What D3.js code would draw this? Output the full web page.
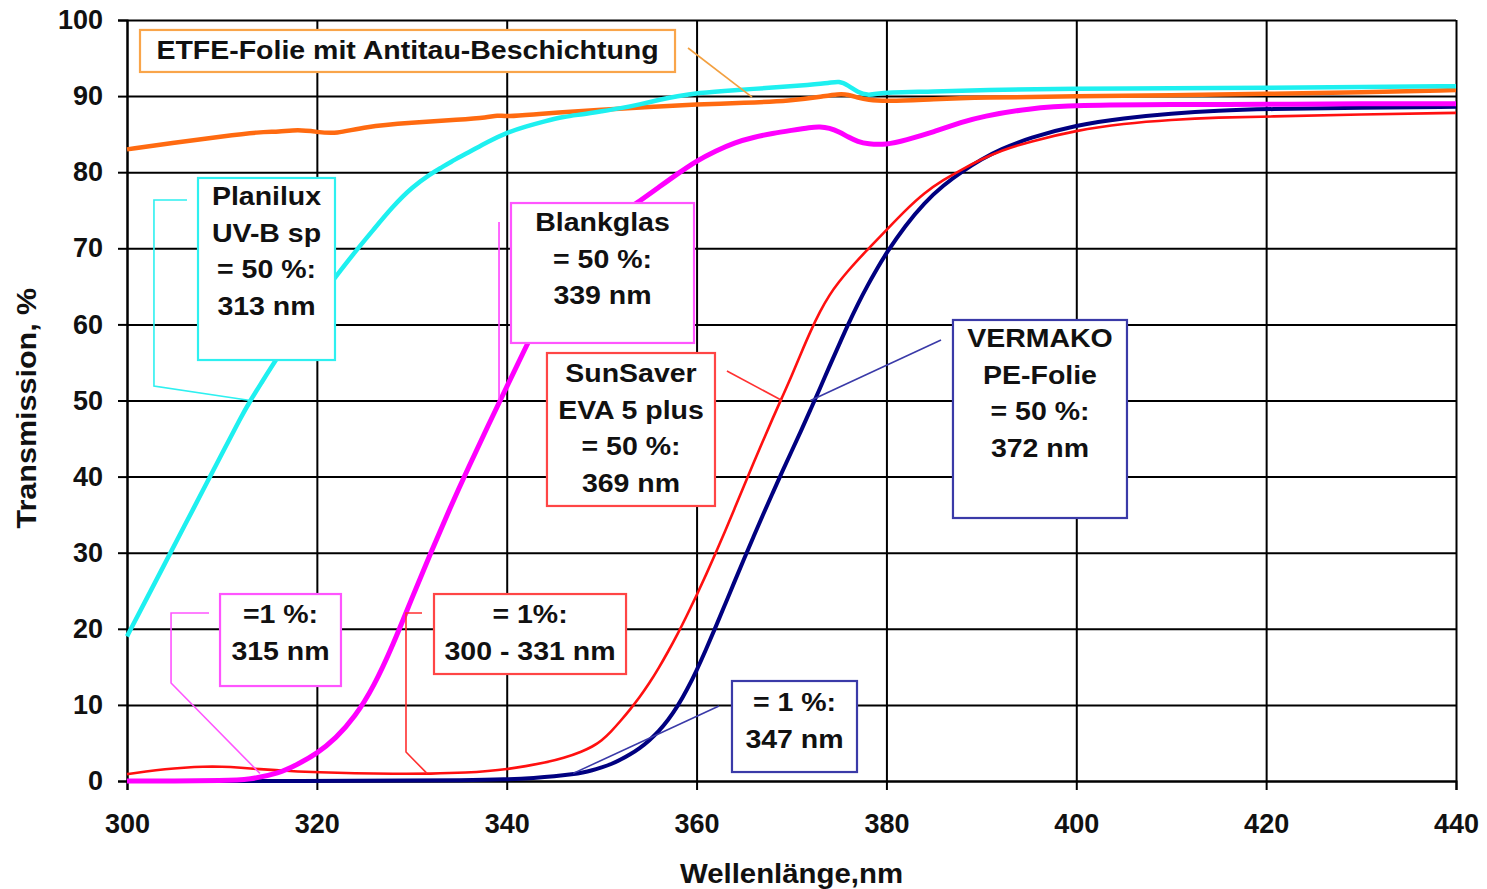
<!DOCTYPE html>
<html>
<head>
<meta charset="utf-8">
<script src="https://cdn.jsdelivr.net/npm/d3@7"></script>
<style>
  html, body { margin: 0; padding: 0; background: #fff; }
  svg { display: block; font-family: "Liberation Sans", Arial, sans-serif; }
</style>
</head>
<body>
<svg id="chart" width="1487" height="889"></svg>
<script>
// ---------------- DATA ----------------
const xTicks = [300, 320, 340, 360, 380, 400, 420, 440];
const yTicks = [0, 10, 20, 30, 40, 50, 60, 70, 80, 90, 100];

// ETFE-Folie mit Antitau-Beschichtung (orange)
const etfeWl = [300,305,310,314,316,318,320,322,325,330,335,338,339,340,343,345,350,355,360,365,370,373,375,376,377,378,380,385,390,400,410,420,430,440];
const etfeT  = [83.0,83.9,84.7,85.3,85.3,85.6,85.3,85.0,86.0,86.5,86.9,87.2,87.5,87.3,87.6,87.8,88.2,88.6,88.9,89.1,89.4,89.9,90.3,90.2,89.8,89.5,89.3,89.6,89.8,90.0,90.1,90.3,90.5,90.8];

// Planilux UV-B sp (cyan)
const planWl = [300,302,304,306,308,310,312,313,314,316,318,320,322,324,326,328,330,332,333,334,336,338,340,342,344,346,348,350,352,354,356,358,360,364,368,372,374,375,376,377,378,379,380,385,390,400,410,420,430,440];
const planT  = [19.0,23.8,28.6,33.4,38.2,43.0,47.8,50.0,52.0,56.0,59.5,63.0,66.3,69.5,72.5,75.5,78.0,79.8,80.5,81.3,82.6,84.0,85.2,86.0,86.7,87.3,87.6,88.0,88.4,88.9,89.5,90.0,90.4,90.8,91.1,91.5,91.7,92.0,91.4,90.5,90.1,90.3,90.5,90.6,90.8,91.0,91.0,91.1,91.2,91.3];

// Blankglas (magenta)
const blankWl = [300,305,310,313,316,318,320,322,324,326,328,330,332,334,336,338,340,342,344,346,348,350,352,354,356,358,360,362,364,366,368,370,372,373,374,375,376,377,378,380,382,385,388,390,395,400,410,420,430,440];
const blankT  = [0,0,0.05,0.2,1.0,2.2,3.6,5.6,8.4,12.4,17.8,24.0,30.0,35.8,41.3,46.6,51.8,57.0,62.0,66.3,69.8,72.4,74.5,76.2,78.0,79.8,81.5,82.8,83.9,84.6,85.1,85.5,85.9,86.0,85.8,85.3,84.6,84.0,83.7,83.6,84.2,85.3,86.6,87.3,88.4,88.8,88.9,88.9,89.0,89.0];

// SunSaver EVA 5 plus (red)
const sunWl = [300,302,304,306,308,310,312,314,316,318,320,324,328,332,336,338,340,342,344,346,348,349,350,351,352,353,354,355,356,357,358,359,360,361,362,363,364,365,366,367,368,369,370,371,372,373,374,375,376,377,378,379,380,382,384,386,388,390,392,395,400,405,410,415,420,430,440];
const sunT  = [0.9,1.25,1.55,1.75,1.9,1.9,1.75,1.55,1.4,1.25,1.15,1.0,0.95,0.95,1.1,1.3,1.55,1.95,2.4,3.0,3.9,4.5,5.3,6.5,7.9,9.4,11.0,12.8,14.8,17.0,19.3,21.8,24.4,27.1,29.9,32.8,35.8,38.8,41.8,44.7,47.6,50.4,53.2,56.2,59.1,61.7,63.9,65.6,67.1,68.5,69.8,71.1,72.4,75.0,77.3,79.0,80.4,81.7,82.8,84.0,85.5,86.4,86.9,87.2,87.3,87.6,87.8];

// VERMAKO PE-Folie (navy)
const verWl = [300,320,330,335,340,343,345,347,348,349,350,351,352,353,354,355,356,357,358,359,360,361,362,363,364,365,366,367,368,369,370,371,372,373,374,375,376,377,378,379,380,382,384,386,388,390,392,395,400,405,410,415,420,430,440];
const verT  = [0,0,0.05,0.1,0.2,0.4,0.6,0.9,1.1,1.4,1.8,2.2,2.8,3.5,4.3,5.3,6.5,8.0,9.8,12.0,14.5,17.3,20.2,23.2,26.2,29.2,32.1,35.0,37.8,40.6,43.3,46.0,48.8,51.6,54.5,57.3,60.1,62.7,65.1,67.3,69.4,73.0,76.0,78.3,80.1,81.7,83.0,84.5,86.2,87.1,87.7,88.1,88.3,88.5,88.6];

const seriesNames = ["ETFE", "Planilux", "Blankglas", "SunSaver", "VERMAKO"];

// Annotation texts
const etfeLabel   = ["ETFE-Folie mit Antitau-Beschichtung"];
const planLabel   = ["Planilux", "UV-B sp", "= 50 %:", "313 nm"];
const blankLabel  = ["Blankglas", "= 50 %:", "339 nm"];
const sunLabel    = ["SunSaver", "EVA 5 plus", "= 50 %:", "369 nm"];
const verLabel    = ["VERMAKO", "PE-Folie", "= 50 %:", "372 nm"];
const ver1Label   = ["= 1 %:", "347 nm"];
const blank1Label = ["=1 %:", "315 nm"];
const sun1Label   = ["= 1%:", "300 - 331 nm"];

// ---------------- LAYOUT ----------------
const W = 1487, H = 889;
const margin = { top: 20, right: 31, bottom: 108, left: 127 };
const iw = W - margin.left - margin.right;
const ih = H - margin.top - margin.bottom;

const svg = d3.select("#chart");
const g = svg.append("g").attr("transform", `translate(${margin.left},${margin.top})`);

const x = d3.scaleLinear().domain([300, 440]).range([0, iw]);
const y = d3.scaleLinear().domain([0, 100]).range([ih, 0]);

// grid
g.append("g").attr("class", "grid")
  .call(d3.axisLeft(y).tickValues(yTicks).tickSize(-iw).tickFormat(""))
  .call(s => s.select(".domain").remove())
  .call(s => s.selectAll("line").attr("stroke", "#000").attr("stroke-width", 2));
g.append("g").attr("class", "grid")
  .attr("transform", `translate(0,${ih})`)
  .call(d3.axisBottom(x).tickValues(xTicks).tickSize(-ih).tickFormat(""))
  .call(s => s.select(".domain").remove())
  .call(s => s.selectAll("line").attr("stroke", "#000").attr("stroke-width", 2));

// axes with labels
const yAxis = g.append("g")
  .call(d3.axisLeft(y).tickValues(yTicks).tickSize(9).tickPadding(15).tickFormat(d3.format("d")));
const xAxis = g.append("g").attr("transform", `translate(0,${ih})`)
  .call(d3.axisBottom(x).tickValues(xTicks).tickSize(9).tickPadding(24).tickFormat(d3.format("d")));
[yAxis, xAxis].forEach(a => {
  a.select(".domain").attr("stroke", "#000").attr("stroke-width", 2);
  a.selectAll(".tick line").attr("stroke", "#000").attr("stroke-width", 2);
  a.selectAll(".tick text")
    .attr("fill", "#111")
    .style("font-family", "'Liberation Sans', Arial, sans-serif")
    .style("font-weight", "bold")
    .style("font-size", "27px");
});

// helper for stretched bold text
function stretchedText(parent, px, py, str, size, sx, anchor, rot) {
  const t = parent.append("g")
    .attr("transform", `translate(${px},${py}) rotate(${rot || 0}) scale(${sx},1)`)
    .append("text")
    .attr("text-anchor", anchor || "middle")
    .attr("fill", "#111")
    .style("font-weight", "bold")
    .style("font-size", size + "px")
    .text(str);
  return t;
}

// axis titles
stretchedText(svg, margin.left + x(370), 883, "Wellenlänge,nm", 28, 1.05, "middle");
stretchedText(svg, 36, margin.top + y(49), "Transmission, %", 27, 1.13, "middle", -90);

// curves
const line = d3.line()
  .x(d => x(d[0]))
  .y(d => y(d[1]))
  .curve(d3.curveBasis);

const curves = [
  { wl: etfeWl,  t: etfeT,  color: "#ff6a10", w: 4.5 },
  { wl: planWl,  t: planT,  color: "#1ef0f0", w: 4.5 },
  { wl: verWl,   t: verT,   color: "#000080", w: 4 },
  { wl: sunWl,   t: sunT,   color: "#ff1010", w: 2.6 },
  { wl: blankWl, t: blankT, color: "#ff00ff", w: 5 }
];
curves.forEach(c => {
  g.append("path")
    .datum(c.wl.map((w, i) => [w, c.t[i]]))
    .attr("fill", "none")
    .attr("stroke", c.color)
    .attr("stroke-width", c.w)
    .attr("stroke-linejoin", "round")
    .attr("d", line);
});

// annotations (positions in data units: nm / %)
const ann = [
  { box: [301.37, 98.69, 357.73, 93.17], color: "#f9a54a", lines: etfeLabel,
    leader: [[359.1, 96.32], [365.84, 89.88]], lc: "#f3a040", first: 20 },
  { box: [307.48, 79.24, 321.91, 55.32], color: "#2ef0f0", lines: planLabel,
    leader: [[306.32, 76.35], [302.84, 76.35], [302.84, 51.9], [313, 50]], lc: "#2ef0f0", first: 18 },
  { box: [340.45, 75.95, 359.73, 57.56], color: "#ff55ff", lines: blankLabel,
    leader: [[339.19, 73.46], [339.19, 50]], lc: "#ff44ff", first: 19 },
  { box: [344.24, 56.24, 361.94, 36.14], color: "#ff4545", lines: sunLabel,
    leader: [[363.2, 53.88], [369, 50]], lc: "#ff3030", first: 20 },
  { box: [387.01, 60.58, 405.34, 34.56], color: "#3a3aa8", lines: verLabel,
    leader: [[385.75, 57.95], [372, 50]], lc: "#3a3aa8", first: 18 },
  { box: [363.73, 13.14, 376.90, 1.18], color: "#3a3aa8", lines: ver1Label,
    leader: [[362.36, 9.86], [347, 1]], lc: "#3a3aa8", first: 21 },
  { box: [309.80, 24.57, 322.54, 12.48], color: "#ff55ff", lines: blank1Label,
    leader: [[308.64, 22.08], [304.64, 22.08], [304.64, 12.88], [314, 1]], lc: "#ff55ff", first: 20 },
  { box: [332.34, 24.57, 352.57, 14.06], color: "#ff4545", lines: sun1Label,
    leader: [[331.08, 22.08], [329.39, 22.08], [329.39, 3.81], [331.6, 1]], lc: "#ff3030", first: 20 }
];

const leaderLine = d3.line().x(d => x(d[0])).y(d => y(d[1]));
const lineGap = 36.7;

ann.forEach(a => {
  g.append("path")
    .attr("d", leaderLine(a.leader))
    .attr("fill", "none")
    .attr("stroke", a.lc)
    .attr("stroke-width", 1.6);
  const x0 = x(a.box[0]), y0 = y(a.box[1]), x1 = x(a.box[2]), y1 = y(a.box[3]);
  g.append("rect")
    .attr("x", x0).attr("y", y0)
    .attr("width", x1 - x0).attr("height", y1 - y0)
    .attr("fill", "#fff")
    .attr("stroke", a.color)
    .attr("stroke-width", 2.2);
  const cx = (x0 + x1) / 2;
  a.lines.forEach((s, i) => {
    stretchedText(g, cx, y0 + a.first + i * lineGap + 9, s, 25, 1.14, "middle");
  });
});
</script>
</body>
</html>
